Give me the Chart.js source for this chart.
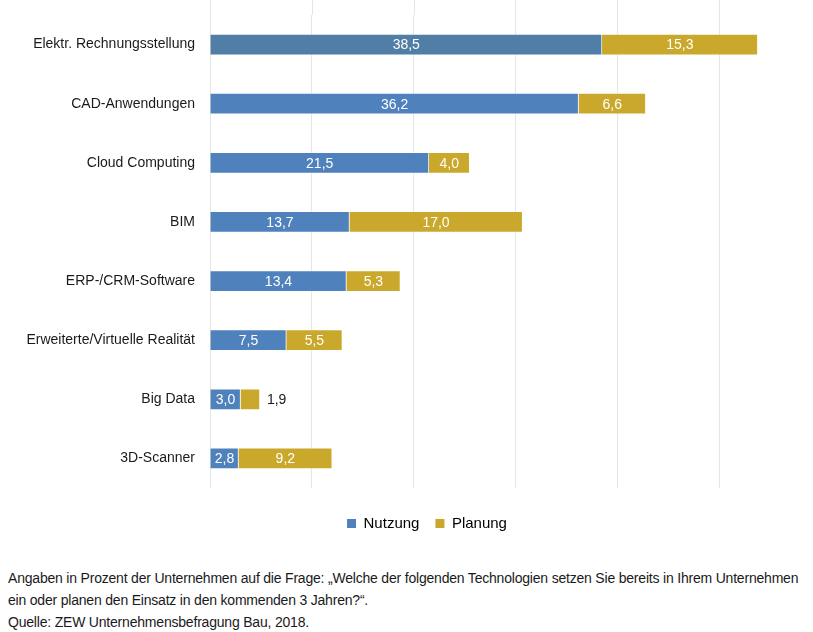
<!DOCTYPE html>
<html>
<head>
<meta charset="utf-8">
<script src="https://cdn.jsdelivr.net/npm/chart.js@4"></script>
<style>
  body { margin: 0; background: #fff; width: 813px; height: 632px; overflow: hidden; position: relative; }
  #wrap { position: absolute; left: 0; top: 0; width: 813px; height: 541px; }
  #note { position: absolute; left: 8px; top: 567px; width: 805px; overflow: hidden; white-space: nowrap;
    font-family: "Liberation Sans Narrow", "Arial Narrow", "Liberation Sans", Arial, sans-serif;
    font-size: 14px; line-height: 22px; color: #1a1a1a; letter-spacing: -0.2px; }
</style>
</head>
<body>
<div id="wrap"><canvas id="chart"></canvas></div>
<div id="note">
  <div>Angaben in Prozent der Unternehmen auf die Frage: „Welche der folgenden Technologien setzen Sie bereits in Ihrem Unternehmen</div>
  <div>ein oder planen den Einsatz in den kommenden 3 Jahren?“.</div>
  <div>Quelle: ZEW Unternehmensbefragung Bau, 2018.</div>
</div>
<script>
// Chart data
const categories = [
  'Elektr. Rechnungsstellung',
  'CAD-Anwendungen',
  'Cloud Computing',
  'BIM',
  'ERP-/CRM-Software',
  'Erweiterte/Virtuelle Realität',
  'Big Data',
  '3D-Scanner'
];
const nutzung = [38.5, 36.2, 21.5, 13.7, 13.4, 7.5, 3.0, 2.8];
const planung = [15.3, 6.6, 4.0, 17.0, 5.3, 5.5, 1.9, 9.2];

const FONT = '"Liberation Sans Narrow", "Arial Narrow", "Liberation Sans", Arial, sans-serif';
const BLUE = '#4f81bd';
const GOLD = '#c9a82c';
const GRID = '#e6e6e6';

// first bar is drawn in a darker blue in the original
const nutzungColors = nutzung.map((v, i) => i === 0 ? '#517ea6' : BLUE);

function fmt(v) {
  return v.toFixed(1).replace('.', ',');
}

// grid lines continue up to the top edge, legend sits a bit right of centre
const tweaks = {
  id: 'tweaks',
  afterLayout(chart) {
    const l = chart.legend;
    l.left += 42;
    l.right += 42;
  },
  beforeDatasetsDraw(chart) {
    const ctx = chart.ctx;
    const x = chart.scales.x;
    ctx.save();
    ctx.strokeStyle = GRID;
    ctx.lineWidth = 1;
    x.ticks.forEach(t => {
      if (t.value % 10 !== 0) return;
      const px = Math.round(x.getPixelForValue(t.value)) + 0.5;
      ctx.beginPath();
      ctx.moveTo(px, 0);
      ctx.lineTo(px, chart.chartArea.top);
      ctx.stroke();
    });
    ctx.restore();
  }
};

// value labels inside the segments
const barLabels = {
  id: 'barLabels',
  afterDatasetsDraw(chart) {
    const ctx = chart.ctx;
    ctx.save();
    ctx.font = '14px ' + FONT;
    ctx.textBaseline = 'middle';
    chart.data.datasets.forEach((ds, di) => {
      const meta = chart.getDatasetMeta(di);
      meta.data.forEach((bar, i) => {
        const text = fmt(ds.data[i]);
        const w = ctx.measureText(text).width;
        const segW = Math.abs(bar.x - bar.base);
        if (w + 4 < segW) {
          ctx.fillStyle = '#fff';
          ctx.textAlign = 'center';
          ctx.fillText(text, (bar.x + bar.base) / 2, bar.y + 1);
        } else {
          ctx.fillStyle = '#1a1a1a';
          ctx.textAlign = 'left';
          ctx.fillText(text, bar.x + 7, bar.y + 1);
        }
      });
    });
    ctx.restore();
  }
};

new Chart(document.getElementById('chart').getContext('2d'), {
  type: 'bar',
  data: {
    labels: categories,
    datasets: [
      {
        label: 'Nutzung',
        data: nutzung,
        backgroundColor: nutzungColors,
        borderColor: 'rgba(255,255,255,0.35)',
        borderWidth: 1,
        barThickness: 21
      },
      {
        label: 'Planung',
        data: planung,
        backgroundColor: GOLD,
        borderColor: 'rgba(255,255,255,0.35)',
        borderWidth: 1,
        barThickness: 21
      }
    ]
  },
  options: {
    indexAxis: 'y',
    responsive: true,
    maintainAspectRatio: false,
    animation: false,
    layout: {
      padding: { top: 15, right: 43, bottom: 0, left: 0 }
    },
    plugins: {
      legend: {
        position: 'bottom',
        labels: {
          font: { family: FONT, size: 15 },
          color: '#1a1a1a',
          boxWidth: 9,
          boxHeight: 9,
          padding: 16,
          generateLabels(chart) {
            return chart.data.datasets.map((ds, i) => ({
              text: ds.label,
              fillStyle: i === 0 ? BLUE : GOLD,
              strokeStyle: i === 0 ? BLUE : GOLD,
              lineWidth: 0,
              datasetIndex: i
            }));
          }
        }
      },
      tooltip: { enabled: false }
    },
    scales: {
      x: {
        stacked: true,
        min: 0,
        max: 55,
        ticks: { display: false, stepSize: 10 },
        border: { display: false },
        grid: {
          drawTicks: false,
          color: (c) => (c.tick && c.tick.value % 10 === 0) ? GRID : 'transparent'
        },
        afterFit(scale) { scale.height = 12; }
      },
      y: {
        stacked: true,
        border: { display: false },
        grid: { display: false, drawTicks: false },
        ticks: {
          padding: 15,
          color: '#1a1a1a',
          font: { family: FONT, size: 14 }
        },
        afterFit(scale) {
          scale.width = 210;
          scale.paddingTop = 0;
          scale.paddingBottom = 0;
        }
      }
    }
  },
  plugins: [tweaks, barLabels]
});
</script>
</body>
</html>
